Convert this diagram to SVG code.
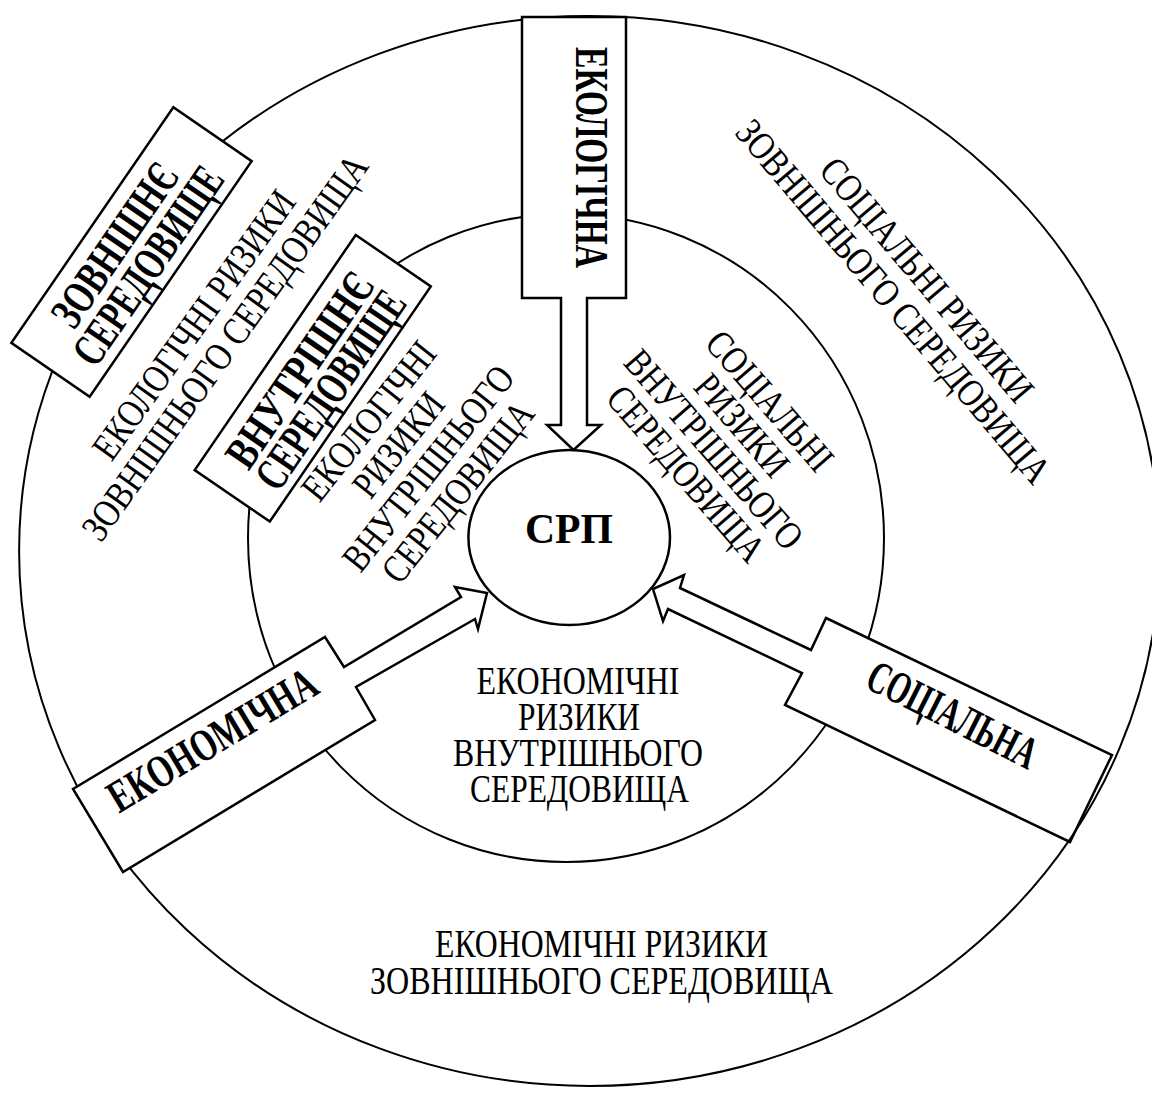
<svg xmlns="http://www.w3.org/2000/svg" width="1152" height="1093" viewBox="0 0 1152 1093">
<style>
.ring{fill:none;stroke:#000;stroke-width:2}
.box{fill:#fff;stroke:#000;stroke-width:2.5;stroke-linejoin:miter}
.r{font-family:"Liberation Serif","Times New Roman",serif;font-size:39px;text-anchor:middle;fill:#000}
.b{font-family:"Liberation Serif","Times New Roman",serif;font-size:46px;font-weight:bold;text-anchor:middle;fill:#000}
</style>
<rect width="1152" height="1093" fill="#fff"/>
<g id="ring-inner"><ellipse class="ring" cx="566" cy="538" rx="318" ry="324"/></g>
<g id="node-social">
<polygon class="box" points="826,618 1112,755 1070,842 785,705 802,673 668,609 663,621 653,589 684,575 680,588 811,650"/>
<text class="b" transform="translate(952.5,715) rotate(26.8)" y="15" textLength="185" lengthAdjust="spacingAndGlyphs">СОЦІАЛЬНА</text>
</g>
<g id="ring-outer"><ellipse class="ring" cx="589.4" cy="551" rx="570.3" ry="535"/></g>
<g id="node-ecological">
<polygon class="box" points="522,17 626,17 626,298 587,298 587,425 601,425 573.5,450 547,425 561,425 561,298 522,298"/>
<text class="b" transform="translate(591,157.5) rotate(90)" y="15" textLength="221" lengthAdjust="spacingAndGlyphs">ЕКОЛОГІЧНА</text>
</g>
<g id="node-economic">
<polygon class="box" points="73,789 325,637 344,667 461,597 455,587 487,593 478,629 475,619 356,687 375,720 123,872"/>
<text class="b" transform="translate(212.5,740) rotate(-31)" y="15" textLength="236" lengthAdjust="spacingAndGlyphs">ЕКОНОМІЧНА</text>
</g>
<g id="node-external">
<rect class="box" x="-143" y="-47.5" width="286" height="95" transform="translate(131.5,252) rotate(-55.5)"/>
<text class="b" transform="translate(115,245) rotate(-55.5)" y="15" textLength="188" lengthAdjust="spacingAndGlyphs">ЗОВНІШНЄ</text>
<text class="b" transform="translate(148.3,265.8) rotate(-55.5)" y="15" textLength="230" lengthAdjust="spacingAndGlyphs">СЕРЕДОВИЩЕ</text>
</g>
<g id="node-internal">
<rect class="box" x="-142.5" y="-45.5" width="285" height="91" transform="translate(312.75,378.25) rotate(-55.6)"/>
<text class="b" transform="translate(300,370) rotate(-55.6)" y="15" textLength="226" lengthAdjust="spacingAndGlyphs">ВНУТРІШНЄ</text>
<text class="b" transform="translate(330.8,390) rotate(-55.6)" y="15" textLength="230" lengthAdjust="spacingAndGlyphs">СЕРЕДОВИЩЕ</text>
</g>
<g id="node-srp">
<ellipse cx="569.2" cy="537.5" rx="100.8" ry="87.5" fill="#fff" stroke="#000" stroke-width="2.5"/>
<text class="b" x="569" y="543" style="font-size:43px" textLength="88" lengthAdjust="spacingAndGlyphs">СРП</text>
</g>
<g id="label-eco-external">
<text class="r" transform="translate(194,325) rotate(-54.5)" y="12.8" textLength="320" lengthAdjust="spacingAndGlyphs">ЕКОЛОГІЧНІ РИЗИКИ</text>
<text class="r" transform="translate(225,347.5) rotate(-54.5)" y="12.8" textLength="463" lengthAdjust="spacingAndGlyphs">ЗОВНІШНЬОГО СЕРЕДОВИЩА</text>
</g>
<g id="label-eco-internal">
<text class="r" transform="translate(368.8,421) rotate(-51.5)" y="12.8" textLength="191" lengthAdjust="spacingAndGlyphs">ЕКОЛОГІЧНІ</text>
<text class="r" transform="translate(398.5,444.7) rotate(-51.5)" y="12.8" textLength="122" lengthAdjust="spacingAndGlyphs">РИЗИКИ</text>
<text class="r" transform="translate(428.3,468.3) rotate(-51.5)" y="12.8" textLength="250" lengthAdjust="spacingAndGlyphs">ВНУТРІШНЬОГО</text>
<text class="r" transform="translate(458,492) rotate(-51.5)" y="12.8" textLength="219" lengthAdjust="spacingAndGlyphs">СЕРЕДОВИЩА</text>
</g>
<g id="label-social-internal">
<text class="r" transform="translate(769.7,401) rotate(49)" y="12.8" textLength="172" lengthAdjust="spacingAndGlyphs">СОЦІАЛЬНІ</text>
<text class="r" transform="translate(741.8,425.3) rotate(49)" y="12.8" textLength="122" lengthAdjust="spacingAndGlyphs">РИЗИКИ</text>
<text class="r" transform="translate(713.8,449.5) rotate(49)" y="12.8" textLength="250" lengthAdjust="spacingAndGlyphs">ВНУТРІШНЬОГО</text>
<text class="r" transform="translate(685.9,473.8) rotate(49)" y="12.8" textLength="219" lengthAdjust="spacingAndGlyphs">СЕРЕДОВИЩА</text>
</g>
<g id="label-social-external">
<text class="r" transform="translate(926.75,280) rotate(49.7)" y="12.8" textLength="307" lengthAdjust="spacingAndGlyphs">СОЦІАЛЬНІ РИЗИКИ</text>
<text class="r" transform="translate(893.25,301.5) rotate(49.7)" y="12.8" textLength="463" lengthAdjust="spacingAndGlyphs">ЗОВНІШНЬОГО СЕРЕДОВИЩА</text>
</g>
<g id="label-econ-internal">
<text class="r" x="578" y="694" textLength="203" lengthAdjust="spacingAndGlyphs">ЕКОНОМІЧНІ</text>
<text class="r" x="579" y="730" textLength="122" lengthAdjust="spacingAndGlyphs">РИЗИКИ</text>
<text class="r" x="578" y="766" textLength="250" lengthAdjust="spacingAndGlyphs">ВНУТРІШНЬОГО</text>
<text class="r" x="579.5" y="802" textLength="219" lengthAdjust="spacingAndGlyphs">СЕРЕДОВИЩА</text>
</g>
<g id="label-econ-external">
<text class="r" x="601.5" y="956.7" textLength="333" lengthAdjust="spacingAndGlyphs">ЕКОНОМІЧНІ РИЗИКИ</text>
<text class="r" x="601.5" y="994.3" textLength="463" lengthAdjust="spacingAndGlyphs">ЗОВНІШНЬОГО СЕРЕДОВИЩА</text>
</g>
<g id="connectors"></g>
</svg>
